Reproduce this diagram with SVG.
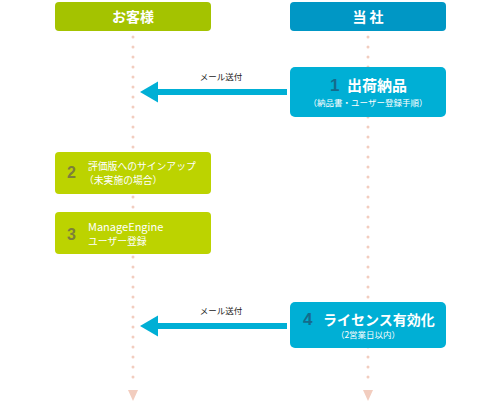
<svg xmlns="http://www.w3.org/2000/svg" width="500" height="403" viewBox="0 0 500 403">
<defs>
<style>
.t{font-family:"Noto Sans CJK JP","Liberation Sans",sans-serif;fill:#fff;font-weight:bold}
.s{font-family:"Noto Sans CJK JP","Liberation Sans",sans-serif;fill:#fff}
.lbl{font-family:"Noto Sans CJK JP","Liberation Sans",sans-serif;fill:#222;font-size:8.5px}
.gn{font-family:"Liberation Sans",sans-serif;font-weight:bold;fill:#7d7f3a;font-size:16px}
.bn{font-family:"Liberation Sans",sans-serif;font-weight:bold;fill:#156b8c;font-size:17px}
.life{stroke:#f2cdbf;stroke-width:3;stroke-linecap:round;stroke-dasharray:0 10;fill:none}
.arr{fill:#00afd5}
</style>
</defs>
<g id="lifelines">
<line class="life" x1="133" y1="37" x2="133" y2="385"/>
<line class="life" x1="368" y1="37" x2="368" y2="385"/>
<polygon points="128,390 138,390 133,401" fill="#f2cdbf"/>
<polygon points="363,390 373,390 368,401" fill="#f2cdbf"/>
</g>
<g id="header-customer">
<rect x="55" y="2" width="156" height="29" rx="4" fill="#a4c300"/>
<text class="t" x="133" y="22" font-size="14" text-anchor="middle">お客様</text>
</g>
<g id="header-company">
<rect x="290" y="2" width="156" height="29" rx="4" fill="#0097c5"/>
<text class="t" x="368" y="22" font-size="14" text-anchor="middle">当 社</text>
</g>
<g id="connectors">
<rect class="arr" x="155" y="89" width="132" height="6"/>
<polygon class="arr" points="140,92 158,81.5 158,102.5"/>
<text class="lbl" x="221" y="80" text-anchor="middle">メール送付</text>
<rect class="arr" x="155" y="323" width="132" height="6"/>
<polygon class="arr" points="140,326 158,315.5 158,336.5"/>
<text class="lbl" x="221" y="314" text-anchor="middle">メール送付</text>
</g>
<g id="step1">
<rect x="290" y="67" width="156" height="50" rx="5" fill="#00afd5"/>
<text class="bn" x="330" y="91">1</text>
<text class="t" x="347" y="91" font-size="15">出荷納品</text>
<text class="s" x="368" y="106" font-size="8.5" text-anchor="middle">（納品書・ユーザー登録手順）</text>
</g>
<g id="step2">
<rect x="55" y="152" width="156" height="42" rx="4" fill="#bcd300"/>
<text class="gn" x="67" y="178">2</text>
<text class="s" x="88" y="170" font-size="9.8">評価版へのサインアップ</text>
<text class="s" x="84" y="184" font-size="9.8">（未実施の場合）</text>
</g>
<g id="step3">
<rect x="55" y="212" width="156" height="42" rx="4" fill="#bcd300"/>
<text class="gn" x="67" y="240">3</text>
<text class="s" x="88" y="231" font-size="11" font-family="Liberation Sans">ManageEngine</text>
<text class="s" x="88" y="245" font-size="9.8">ユーザー登録</text>
</g>
<g id="step4">
<rect x="290" y="302" width="156" height="46" rx="5" fill="#00afd5"/>
<text class="bn" x="303" y="325">4</text>
<text class="t" x="323" y="325" font-size="14">ライセンス有効化</text>
<text class="s" x="368" y="338" font-size="8.5" text-anchor="middle">（2営業日以内）</text>
</g>
</svg>
